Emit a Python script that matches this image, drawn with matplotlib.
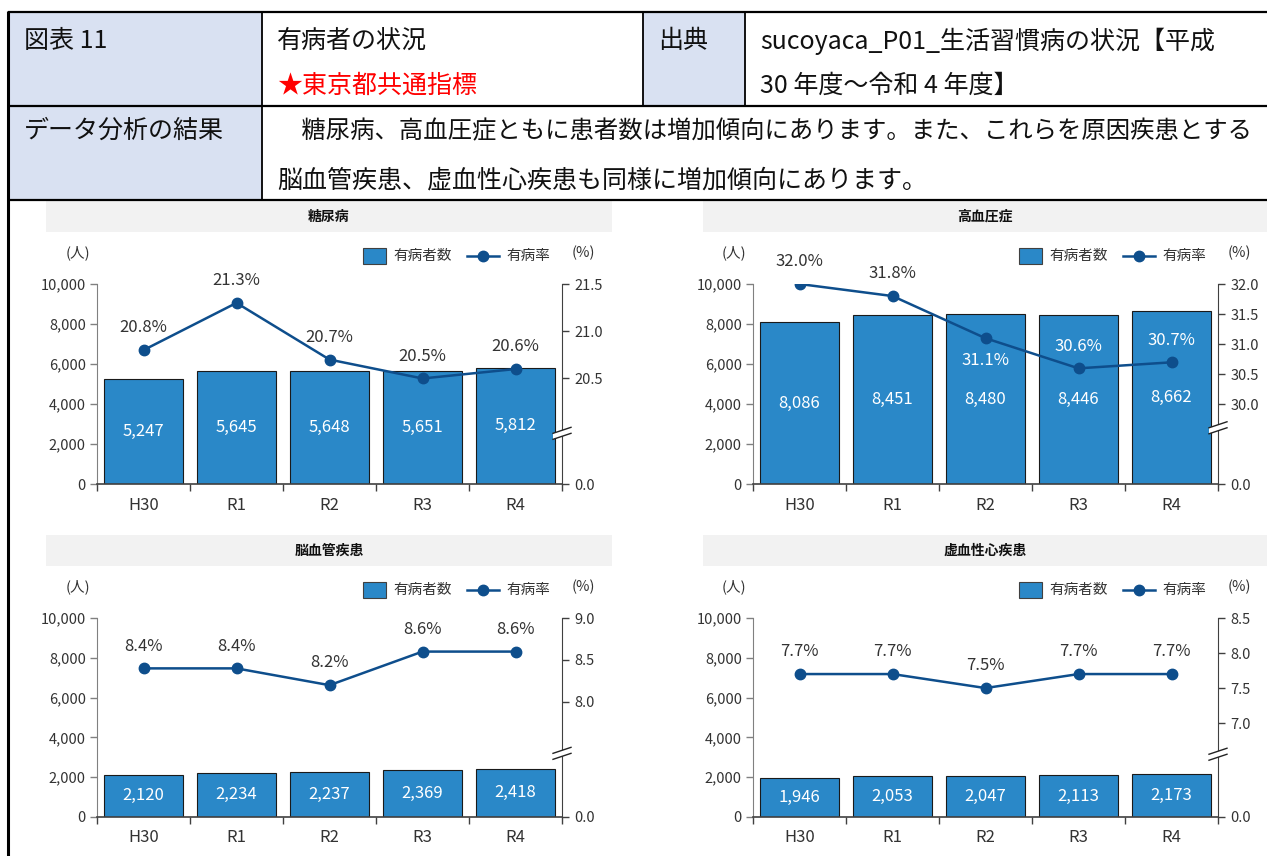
import matplotlib
matplotlib.use('Agg')
import matplotlib.pyplot as plt
from matplotlib.patches import Rectangle, Polygon
import numpy as np

plt.rcParams['font.family'] = ['Noto Sans CJK JP', 'DejaVu Sans']

# ---------------- data ----------------
years = ['H30', 'R1', 'R2', 'R3', 'R4']
titles = ['糖尿病', '高血圧症', '脳血管疾患', '虚血性心疾患']

diabetes_counts = [5247, 5645, 5648, 5651, 5812]
diabetes_rates = [20.8, 21.3, 20.7, 20.5, 20.6]
hypertension_counts = [8086, 8451, 8480, 8446, 8662]
hypertension_rates = [32.0, 31.8, 31.1, 30.6, 30.7]
cerebro_counts = [2120, 2234, 2237, 2369, 2418]
cerebro_rates = [8.4, 8.4, 8.2, 8.6, 8.6]
ischemic_counts = [1946, 2053, 2047, 2113, 2173]
ischemic_rates = [7.7, 7.7, 7.5, 7.7, 7.7]

count_ticks = [0, 2000, 4000, 6000, 8000, 10000]
diabetes_rate_ticks = [20.5, 21.0, 21.5]
hypertension_rate_ticks = [30.0, 30.5, 31.0, 31.5, 32.0]
cerebro_rate_ticks = [8.0, 8.5, 9.0]
ischemic_rate_ticks = [7.0, 7.5, 8.0, 8.5]

legend_bar = '有病者数'
legend_line = '有病率'

header_fig = '図表 11'
header_title = '有病者の状況'
header_star = '★東京都共通指標'
header_src_label = '出典'
header_src_1 = 'sucoyaca_P01_生活習慣病の状況【平成'
header_src_2 = '30 年度～令和 4 年度】'
header_ana_label = 'データ分析の結果'
header_ana_1 = '\u3000糖尿病、高血圧症ともに患者数は増加傾向にあります。また、これらを原因疾患とする'
header_ana_2 = '脳血管疾患、虚血性心疾患も同様に増加傾向にあります。'

# ---------------- style ----------------
W, H, DPI = 1267, 856, 100
BAR = '#2A88C8'
BAR_EDGE = '#1A1A1A'
LINE = '#0E4E8C'
TXT = '#333333'
SPINE = '#808080'
BAND = '#F2F2F2'
LABEL_FILL = '#D9E1F2'

fig = plt.figure(figsize=(W / DPI, H / DPI), dpi=DPI)
fig.patch.set_facecolor('white')


def rect(x0, y0, x1, y1):
    return [x0 / W, 1 - y1 / H, (x1 - x0) / W, (y1 - y0) / H]


ov = fig.add_axes([0, 0, 1, 1], zorder=10)
ov.set_xlim(0, W)
ov.set_ylim(H, 0)
ov.axis('off')
ov.patch.set_alpha(0)

# ---------------- header table ----------------
for (x0, y0, x1, y1) in [(8, 12, 262, 106), (8, 106, 262, 200), (643, 12, 745, 106)]:
    ov.add_patch(Rectangle((x0, y0), x1 - x0, y1 - y0, facecolor=LABEL_FILL,
                           edgecolor='none', zorder=0))
for yy in [12, 106, 200]:
    ov.plot([8, W], [yy, yy], color='black', lw=1.6, solid_capstyle='butt', clip_on=False)
ov.plot([8, 8], [11, H], color='black', lw=2.2, solid_capstyle='butt', clip_on=False)
ov.plot([262, 262], [12, 200], color='black', lw=1.3)
ov.plot([643, 643], [12, 106], color='black', lw=1.3)
ov.plot([745, 745], [12, 106], color='black', lw=1.3)

HF = 18
header_texts = []
for (tx, ty, s, col, maxw) in [
        (24, 41, header_fig, '#111111', None),
        (277, 41, header_title, '#111111', None),
        (277, 86, header_star, '#FF0000', None),
        (658, 41, header_src_label, '#111111', None),
        (760, 41, header_src_1, '#111111', 500),
        (760, 86, header_src_2, '#111111', None),
        (24, 131, header_ana_label, '#111111', None),
        (277, 131, header_ana_1, '#111111', 975),
        (277, 180, header_ana_2, '#111111', None)]:
    t = ov.text(tx, ty, s, fontsize=HF, va='center', ha='left', color=col)
    header_texts.append((t, maxw))

fig.canvas.draw()
for t, maxw in header_texts:
    if maxw is not None:
        w = t.get_window_extent().width
        if w > maxw:
            t.set_fontsize(HF * maxw / w)

# ---------------- panels ----------------
panels = [
    dict(px=(97, 284, 562, 484), band=(46, 201, 612, 232), title=titles[0],
         counts=diabetes_counts, rates=diabetes_rates, rticks=diabetes_rate_ticks,
         rlo=19.383, brk=19.93, pos=['a', 'a', 'a', 'a', 'a']),
    dict(px=(753, 284, 1218, 484), band=(703, 201, W, 232), title=titles[1],
         counts=hypertension_counts, rates=hypertension_rates, rticks=hypertension_rate_ticks,
         rlo=28.68, brk=29.63, pos=['a', 'a', 'b', 'a', 'a']),
    dict(px=(97, 618, 562, 817), band=(46, 535, 612, 566), title=titles[2],
         counts=cerebro_counts, rates=cerebro_rates, rticks=cerebro_rate_ticks,
         rlo=6.63, brk=7.40, pos=['a', 'a', 'a', 'a', 'a']),
    dict(px=(753, 618, 1218, 817), band=(703, 535, W, 566), title=titles[3],
         counts=ischemic_counts, rates=ischemic_rates, rticks=ischemic_rate_ticks,
         rlo=5.66, brk=6.57, pos=['a', 'a', 'a', 'a', 'a']),
]

for p in panels:
    x0, y0, x1, y1 = p['px']
    bx0, by0, bx1, by1 = p['band']
    ov.add_patch(Rectangle((bx0, by0), bx1 - bx0, by1 - by0, facecolor=BAND,
                           edgecolor='none', zorder=0))
    ov.text((bx0 + bx1) / 2, (by0 + by1) / 2, p['title'], fontsize=10, fontweight='bold',
            ha='center', va='center', color='#111111')

    ax = fig.add_axes(rect(x0, y0, x1, y1))
    ax.patch.set_alpha(0)
    xs = np.arange(len(years))
    ax.bar(xs, p['counts'], width=0.84, color=BAR, edgecolor=BAR_EDGE, linewidth=0.8, zorder=2)
    ax.set_xlim(-0.5, len(years) - 0.5)
    ax.set_ylim(count_ticks[0], count_ticks[-1])
    ax.set_yticks(count_ticks)
    ax.set_yticklabels([f'{v:,}' for v in count_ticks])
    ax.set_xticks(xs)
    ax.set_xticklabels(years)
    ax.set_xticks(np.arange(-0.5, len(years), 1.0), minor=True)
    ax.tick_params(axis='x', which='major', length=0, pad=9, labelsize=12, labelcolor=TXT)
    ax.tick_params(axis='x', which='minor', length=5, direction='out', color='#404040', width=1)
    ax.tick_params(axis='y', length=5, direction='out', color=SPINE, width=1,
                   labelsize=10.5, labelcolor=TXT, pad=3)
    for s in ['top', 'right']:
        ax.spines[s].set_visible(False)
    ax.spines['left'].set_color(SPINE)
    ax.spines['bottom'].set_color('#404040')
    ax.spines['bottom'].set_linewidth(1.2)

    for i, c in enumerate(p['counts']):
        ax.text(i, c / 2, f'{c:,}', ha='center', va='center', color='white', fontsize=12, zorder=3)

    ax2 = ax.twinx()
    ax2.set_ylim(p['rlo'], p['rticks'][-1])
    ax2.set_yticks([p['rlo']] + p['rticks'])
    ax2.set_yticklabels(['0.0'] + [f'{v:.1f}' for v in p['rticks']])
    ax2.tick_params(axis='y', length=5, direction='out', color='#404040', width=1,
                    labelsize=10.5, labelcolor=TXT, pad=4)
    for s in ['top', 'left', 'bottom']:
        ax2.spines[s].set_visible(False)
    ax2.spines['right'].set_color('#404040')
    ax2.plot(xs, p['rates'], color=LINE, lw=1.8, marker='o', ms=7.5, zorder=4)

    for i, (r, c, ps) in enumerate(zip(p['rates'], p['counts'], p['pos'])):
        off = 16 if ps == 'a' else -16
        pt = ax2.transData.transform((i, r))
        lab_y = pt[1] + off * DPI / 72
        top = ax.transData.transform((i, c))[1]
        col = 'white' if lab_y < top - 4 else TXT
        ax2.annotate(f'{r:.1f}%', (i, r), xytext=(0, off), textcoords='offset points',
                     ha='center', va='center', fontsize=12, color=col)

    # axis break marks on right spine
    yb = H - ax2.transData.transform((0, p['brk']))[1]
    xa, xb = x1 - 9, x1 + 9
    ov.add_patch(Polygon([(xa, yb + 1), (xb, yb - 5), (xb, yb + 1), (xa, yb + 7)],
                         closed=True, facecolor='white', edgecolor='none', zorder=5))
    ov.plot([xa, xb], [yb + 1, yb - 5], color='#222222', lw=1.0, zorder=6)
    ov.plot([xa, xb], [yb + 7, yb + 1], color='#222222', lw=1.0, zorder=6)

    # legend and units
    ly = y0 - 28
    ov.add_patch(Rectangle((x0 + 266, ly - 8), 23, 16, facecolor=BAR, edgecolor='#404040',
                           lw=0.8, zorder=3))
    ov.text(x0 + 296, ly, legend_bar, fontsize=10.5, ha='left', va='center', color=TXT)
    ov.plot([x0 + 370, x0 + 402], [ly, ly], color=LINE, lw=1.8, zorder=3)
    ov.plot([x0 + 386], [ly], marker='o', ms=7.5, color=LINE, zorder=4)
    ov.text(x0 + 409, ly, legend_line, fontsize=10.5, ha='left', va='center', color=TXT)
    ov.text(x0 + 486, ly - 3, '(%)', fontsize=10.5, ha='center', va='center', color=TXT)
    ov.text(x0 - 19, ly - 3, '(人)', fontsize=10.5, ha='center', va='center', color=TXT)

fig.savefig('out.png', dpi=DPI, facecolor='white')
